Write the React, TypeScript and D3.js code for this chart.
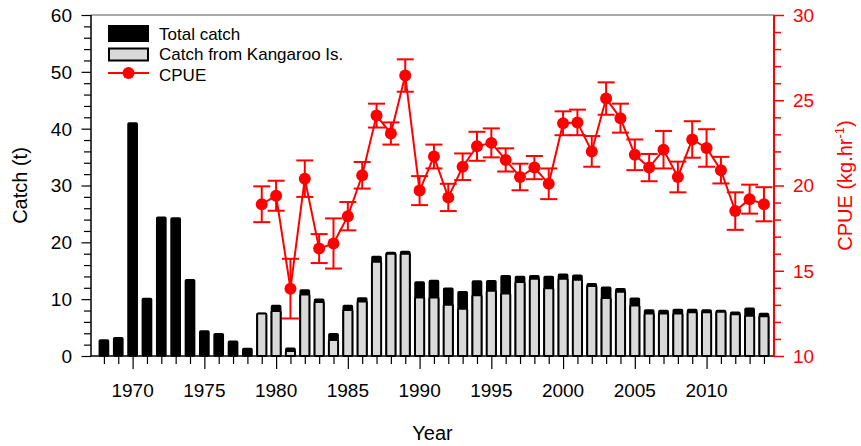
import React, { useEffect, useRef } from 'react';
import * as d3 from 'd3';

const years = [1968, 1969, 1970, 1971, 1972, 1973, 1974, 1975, 1976, 1977, 1978, 1979, 1980,
  1981, 1982, 1983, 1984, 1985, 1986, 1987, 1988, 1989, 1990, 1991, 1992, 1993, 1994, 1995,
  1996, 1997, 1998, 1999, 2000, 2001, 2002, 2003, 2004, 2005, 2006, 2007, 2008, 2009, 2010,
  2011, 2012, 2013, 2014];

const totalCatch = [2.8, 3.2, 41.0, 10.1, 24.4, 24.3, 13.4, 4.4, 3.9, 2.6, 1.3, 7.5, 8.9,
  1.35, 11.6, 10.0, 3.9, 8.9, 10.2, 17.5, 18.2, 18.4, 13.0, 13.3, 11.9, 11.3, 13.2, 13.25,
  14.1, 14.0, 14.1, 14.0, 14.4, 14.2, 12.7, 12.1, 11.85, 10.15, 8.1, 8.0, 8.2, 8.2, 8.1,
  8.0, 7.7, 8.4, 7.5];

// Kangaroo Is. catch, no record before 1979
const kiCatch = [null, null, null, null, null, null, null, null, null, null, null, 7.5, 7.9,
  0.9, 10.8, 9.5, 2.8, 8.1, 9.6, 16.6, 18.0, 18.0, 10.3, 10.3, 9.0, 8.3, 10.7, 11.5,
  11.0, 13.0, 13.6, 11.9, 13.6, 13.4, 12.3, 10.2, 11.3, 8.9, 7.5, 7.5, 7.5, 7.7, 7.7,
  7.8, 7.35, 7.1, 7.0];

const cpueYears = [1979, 1980, 1981, 1982, 1983, 1984, 1985, 1986, 1987, 1988, 1989, 1990,
  1991, 1992, 1993, 1994, 1995, 1996, 1997, 1998, 1999, 2000, 2001, 2002, 2003, 2004, 2005,
  2006, 2007, 2008, 2009, 2010, 2011, 2012, 2013, 2014];
const cpue = [18.9, 19.4, 13.95, 20.4, 16.3, 16.6, 18.2, 20.6, 24.1, 23.05, 26.45, 19.7,
  21.7, 19.3, 21.1, 22.3, 22.5, 21.5, 20.5, 21.05, 20.1, 23.65, 23.7, 22.0, 25.1, 23.95, 21.8,
  21.05, 22.1, 20.5, 22.7, 22.2, 20.9, 18.5, 19.2, 18.9];
const cpueErr = [1.05, 0.88, 1.75, 1.07, 0.85, 1.47, 0.83, 0.78, 0.7, 0.65, 0.95, 0.85,
  0.7, 0.8, 0.78, 0.85, 0.85, 0.68, 0.78, 0.68, 0.9, 0.7, 0.75, 0.9, 0.95, 0.85, 0.9,
  0.8, 1.1, 0.9, 1.07, 1.1, 0.78, 1.1, 0.85, 1.0];

const catchTicks = [0, 10, 20, 30, 40, 50, 60];
const cpueTicks = [10, 15, 20, 25, 30];
const yearTicks = [1970, 1975, 1980, 1985, 1990, 1995, 2000, 2005, 2010];

const legendLabels = ['Total catch', 'Catch from Kangaroo Is.', 'CPUE'];

const FONT = '"Liberation Sans", Arial, sans-serif';
const RED = '#ff0000';

function CatchChart() {
  const graphRef = useRef<SVGSVGElement>(null);

  function drawChart() {
    const svg = d3.select(graphRef.current);
    svg.selectAll('*').remove();

    const left = 91, right = 774, top = 15, bottom = 356;

    const x = d3.scaleLinear().domain([1967.1, 2014.7]).range([left, right]);
    const yCatch = d3.scaleLinear().domain([0, 60]).range([bottom, top]);
    const yCpue = d3.scaleLinear().domain([10, 30]).range([bottom, top]);
    const barW = 9.2;

    // bars: total first, then the Kangaroo Is. part over it
    const bars = svg.append('g');
    bars.selectAll('rect.total')
      .data(years.map((yr, i) => ({ yr, v: totalCatch[i] })))
      .enter()
      .append('rect')
        .attr('class', 'total')
        .attr('x', d => x(d.yr) - barW / 2)
        .attr('y', d => yCatch(d.v))
        .attr('width', barW)
        .attr('height', d => bottom - yCatch(d.v))
        .attr('rx', 1)
        .attr('fill', '#000')
        .attr('stroke', '#000')
        .attr('stroke-width', 1.5);

    bars.selectAll('rect.ki')
      .data(years.map((yr, i) => ({ yr, v: kiCatch[i] })).filter(d => d.v != null))
      .enter()
      .append('rect')
        .attr('class', 'ki')
        .attr('x', d => x(d.yr) - barW / 2)
        .attr('y', d => yCatch(d.v as number))
        .attr('width', barW)
        .attr('height', d => bottom - yCatch(d.v as number))
        .attr('rx', 1)
        .attr('fill', '#d9d9d9')
        .attr('stroke', '#000')
        .attr('stroke-width', 2);

    // frame
    svg.append('line')
      .attr('x1', left).attr('x2', right).attr('y1', top).attr('y2', top)
      .attr('stroke', '#555').attr('stroke-width', 1);

    // x axis
    const xAxis = svg.append('g').attr('transform', `translate(0,${bottom})`);
    xAxis.call(d3.axisBottom(x).tickValues(years).tickSize(8).tickFormat(() => ''));
    xAxis.selectAll('.tick line').attr('stroke', '#000').attr('stroke-width', 1.2);
    xAxis.selectAll('.tick')
      .filter((d: any) => yearTicks.includes(d))
      .select('line').attr('y2', 13);
    xAxis.select('.domain').attr('d', `M${left},0H${right}`).attr('stroke', '#000').attr('stroke-width', 1.5);
    xAxis.selectAll('text.lbl')
      .data(yearTicks)
      .enter()
      .append('text')
        .attr('x', d => x(d))
        .attr('y', 41)
        .attr('text-anchor', 'middle')
        .style('font-family', FONT)
        .style('font-size', '19px')
        .attr('fill', '#000')
        .text(d => d);

    // left axis
    const yAxisL = svg.append('g').attr('transform', `translate(${left},0)`);
    yAxisL.call(d3.axisLeft(yCatch).tickValues(d3.range(0, 61, 2)).tickSize(7).tickFormat(() => ''));
    yAxisL.selectAll('.tick')
      .filter((d: any) => catchTicks.includes(d))
      .select('line').attr('x2', -9.5);
    yAxisL.selectAll('.tick line').attr('stroke', '#000').attr('stroke-width', 1.2);
    yAxisL.select('.domain').attr('d', `M0,${bottom}V${top}`).attr('stroke', '#000').attr('stroke-width', 1.5);
    yAxisL.selectAll('text.lbl')
      .data(catchTicks)
      .enter()
      .append('text')
        .attr('x', -19)
        .attr('y', d => yCatch(d))
        .attr('dy', '0.36em')
        .attr('text-anchor', 'end')
        .style('font-family', FONT)
        .style('font-size', '19px')
        .attr('fill', '#000')
        .text(d => d);

    // right axis
    const yAxisR = svg.append('g').attr('transform', `translate(${right},0)`);
    yAxisR.call(d3.axisRight(yCpue).tickValues(d3.range(10, 30.5, 1)).tickSize(7).tickFormat(() => ''));
    yAxisR.selectAll('.tick')
      .filter((d: any) => cpueTicks.includes(d))
      .select('line').attr('x2', 10);
    yAxisR.selectAll('.tick line').attr('stroke', RED).attr('stroke-width', 1.5);
    yAxisR.select('.domain').attr('d', `M0,${bottom}V${top}`).attr('stroke', RED).attr('stroke-width', 2);
    yAxisR.selectAll('text.lbl')
      .data(cpueTicks)
      .enter()
      .append('text')
        .attr('x', 19)
        .attr('y', d => yCpue(d))
        .attr('dy', '0.36em')
        .attr('text-anchor', 'start')
        .style('font-family', FONT)
        .style('font-size', '19px')
        .attr('fill', RED)
        .text(d => d);

    // axis titles
    svg.append('text')
      .attr('transform', `translate(27,${(top + bottom) / 2}) rotate(-90)`)
      .attr('text-anchor', 'middle')
      .style('font-family', FONT)
      .style('font-size', '20px')
      .text('Catch (t)');

    svg.append('text')
      .attr('x', (left + right) / 2)
      .attr('y', 440)
      .attr('text-anchor', 'middle')
      .style('font-family', FONT)
      .style('font-size', '20px')
      .text('Year');

    const rt = svg.append('text')
      .attr('transform', `translate(852,${(top + bottom) / 2}) rotate(-90)`)
      .attr('text-anchor', 'middle')
      .style('font-family', FONT)
      .style('font-size', '20px')
      .attr('fill', RED);
    rt.append('tspan').text('CPUE (kg.hr');
    rt.append('tspan').attr('dy', -8).style('font-size', '13px').text('-1');
    rt.append('tspan').attr('dy', 8).text(')');

    // CPUE series
    const pts = cpueYears.map((yr, i) => ({ yr, v: cpue[i], e: cpueErr[i] }));
    const g = svg.append('g');
    const line = d3.line<{ yr: number; v: number }>()
      .x(d => x(d.yr))
      .y(d => yCpue(d.v));
    g.append('path')
      .datum(pts)
      .attr('d', line)
      .attr('fill', 'none')
      .attr('stroke', RED)
      .attr('stroke-width', 2);

    const cap = 8.5;
    const err = g.selectAll('g.err')
      .data(pts)
      .enter()
      .append('g')
        .attr('class', 'err')
        .attr('stroke', RED)
        .attr('stroke-width', 2);
    err.append('line')
      .attr('x1', d => x(d.yr)).attr('x2', d => x(d.yr))
      .attr('y1', d => yCpue(d.v - d.e)).attr('y2', d => yCpue(d.v + d.e));
    err.append('line')
      .attr('x1', d => x(d.yr) - cap).attr('x2', d => x(d.yr) + cap)
      .attr('y1', d => yCpue(d.v + d.e)).attr('y2', d => yCpue(d.v + d.e));
    err.append('line')
      .attr('x1', d => x(d.yr) - cap).attr('x2', d => x(d.yr) + cap)
      .attr('y1', d => yCpue(d.v - d.e)).attr('y2', d => yCpue(d.v - d.e));

    g.selectAll('circle')
      .data(pts)
      .enter()
      .append('circle')
        .attr('cx', d => x(d.yr))
        .attr('cy', d => yCpue(d.v))
        .attr('r', 6)
        .attr('fill', RED);

    // legend
    const lg = svg.append('g').style('font-family', FONT).style('font-size', '17px');
    lg.append('rect')
      .attr('x', 108).attr('y', 25).attr('width', 41).attr('height', 17)
      .attr('fill', '#000');
    lg.append('rect')
      .attr('x', 109).attr('y', 48.5).attr('width', 39).attr('height', 12)
      .attr('fill', '#d9d9d9').attr('stroke', '#000').attr('stroke-width', 2);
    lg.append('line')
      .attr('x1', 108).attr('x2', 149).attr('y1', 73).attr('y2', 73)
      .attr('stroke', RED).attr('stroke-width', 2);
    lg.append('circle')
      .attr('cx', 128.5).attr('cy', 73).attr('r', 6).attr('fill', RED);
    lg.selectAll('text')
      .data(legendLabels)
      .enter()
      .append('text')
        .attr('x', 159)
        .attr('y', (d, i) => 39.5 + i * 20.5)
        .attr('fill', '#000')
        .text(d => d);
  }

  useEffect(() => {
    drawChart();
  }, []);

  return (
    <svg ref={graphRef} width={861} height={446}
      style={{ position: 'absolute', left: 0, top: 0, display: 'block' }}></svg>
  );
}

export default function App() {
  return <CatchChart />;
}
